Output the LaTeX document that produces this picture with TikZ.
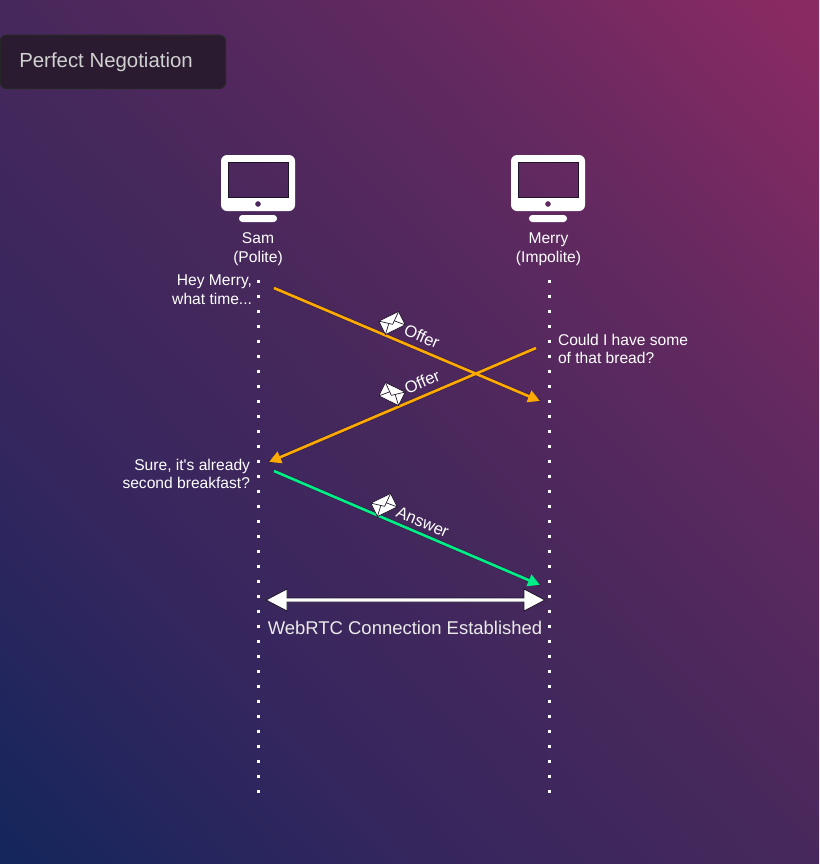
\documentclass[tikz,border=0pt]{standalone}
\usepackage{fontspec}
\setmainfont{Liberation Sans}
\usetikzlibrary{arrows.meta}
\definecolor{bgA}{HTML}{14265C}
\definecolor{bgB}{HTML}{34265E}
\definecolor{bgC}{HTML}{47285C}
\definecolor{bgD}{HTML}{622960}
\definecolor{bgE}{HTML}{8A2A62}
\definecolor{offerc}{HTML}{FFAA00}
\definecolor{answerc}{HTML}{00EE88}
\definecolor{edgec}{HTML}{1E1428}
\definecolor{titlefill}{HTML}{2A1B30}
\pgfdeclarehorizontalshading{bggrad}{100bp}{
 color(0bp)=(bgA); color(15bp)=(bgA); color(32bp)=(bgB); color(50bp)=(bgC); color(67bp)=(bgD); color(84bp)=(bgE); color(100bp)=(bgE)}
\tikzset{
 x=0.75pt,y=-0.75pt,
 lifeline/.style={draw=white,line width=2.25pt,dash pattern=on 2.25pt off 9pt},
 msgoffer/.style={draw=offerc,line width=2pt,-{Triangle[length=9pt,width=9pt,fill=offerc]}},
 msganswer/.style={draw=answerc,line width=2pt,-{Triangle[length=9pt,width=9pt,fill=answerc]}},
 msgedge/.style={draw=edgec,line width=2.8pt,opacity=.55},
 bigarrow/.style={draw=edgec,line width=.6pt,fill=white},
 txt/.style={text=white,font=\fontsize{11.7pt}{13.9pt}\selectfont,inner sep=0pt,outer sep=0pt},
 msglabel/.style={text=white,font=\fontsize{12.4pt}{14pt}\selectfont,inner sep=0pt,anchor=west},
 env/.style={fill=white,draw=edgec,line width=.5pt},
 envline/.style={draw=edgec,line width=.5pt},
 screenbody/.style={fill=white,even odd rule},
}
\newcommand{\monitor}[1]{%
 \begin{scope}[shift={(#1,155)}]
  \fill[screenbody] [rounded corners=4.5pt] (0,0) rectangle (74,56)
    [sharp corners] (7,7) rectangle (67,42) (37,49) circle (2.2pt);
  \draw[edgec,line width=.4pt] (7,7) rectangle (67,42);
  \fill[white,rounded corners=2.5pt] (18,60) rectangle (56,67);
 \end{scope}}
\newcommand{\envelope}[3]{%
 \begin{scope}[shift={(#1,#2)},rotate=#3]
  \draw[env] (-11,-7.5) rectangle (11,7.5);
  \draw[envline] (-11,-7.5) -- (0,1.5) -- (11,-7.5);
  \draw[envline] (-11,7.5) -- (-3,-1); \draw[envline] (11,7.5) -- (3,-1);
 \end{scope}}
\begin{document}
\begin{tikzpicture}
\useasboundingbox (0,0) rectangle (819,864);
\shade[shading=bggrad,shading angle=43] (0,0) rectangle (819,864);
% title
\node[draw=black!85,line width=1pt,fill=titlefill,rounded corners=5pt,minimum width=169pt,minimum height=40pt,anchor=north west,inner sep=0pt] (title) at (-0.5,34.5) {};
\node[anchor=west,text=white!82!black,font=\fontsize{15.3pt}{18pt}\selectfont,inner sep=0pt] (titletext) at (19,62.5) {Perfect Negotiation};
% monitors
\monitor{221}
\monitor{511}
\node[txt,align=center,anchor=north] (samlabel) at (258,233) {Sam\\(Polite)};
\node[txt,align=center,anchor=north] (merrylabel) at (548.5,233) {Merry\\(Impolite)};
% lifelines
\coordinate (samtop) at (258,279.5);
\coordinate (sambot) at (258,794);
\coordinate (merrytop) at (549,279.5);
\coordinate (merrybot) at (549,794);
\draw[lifeline] (samtop) -- (sambot);
\draw[lifeline] (merrytop) -- (merrybot);
% messages
\coordinate (a1) at (274,288); \coordinate (a2) at (540,401);
\coordinate (b1) at (536,348); \coordinate (b2) at (269,462);
\coordinate (c1) at (274,471); \coordinate (c2) at (540,585);
\draw[msgedge] (a1) -- (a2);
\draw[msgedge] (b1) -- (b2);
\draw[msgedge] (c1) -- (c2);
\draw[msgoffer] (a1) -- (a2);
\draw[msgoffer] (b1) -- (b2);
\draw[msganswer] (c1) -- (c2);
\envelope{392}{323}{26}
\envelope{392}{394}{-26}
\envelope{384}{505}{26}
\node[msglabel,rotate=-23] (offerone) at (405,329) {Offer};
\node[msglabel,rotate=23] (offertwo) at (405,389) {Offer};
\node[msglabel,rotate=-23] (answerl) at (397,511) {Answer};
% bubbles
\node[txt,align=right,anchor=north east] (heymerry) at (252,275) {Hey Merry,\\what time...};
\node[txt,align=left,anchor=north west] (bread) at (558,334) {Could I have some\\of that bread?};
\node[txt,align=right,anchor=north east] (sure) at (250,459) {Sure, it\textquotesingle s already\\second breakfast?};
% connection
\coordinate (d1) at (266,600); \coordinate (d2) at (545,600);
\draw[bigarrow] (d1) -- (287,589) -- (287,598) -- (524,598) -- (524,589) -- (d2) -- (524,611) -- (524,602) -- (287,602) -- (287,611) -- cycle;
\node[text=white!92!black,font=\fontsize{13.85pt}{16pt}\selectfont,inner sep=0pt] (established) at (405,628) {WebRTC Connection Established};
\end{tikzpicture}
\end{document}
